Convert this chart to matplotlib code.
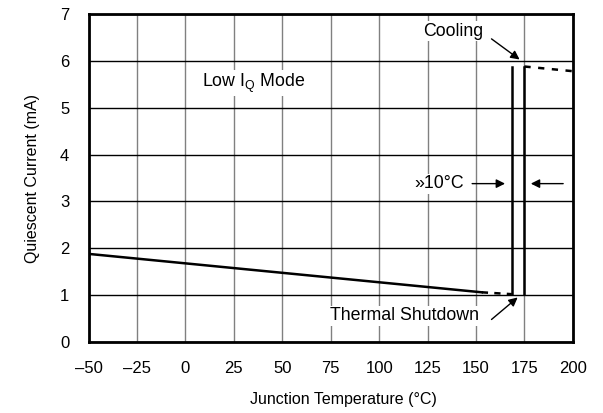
import numpy as np
import matplotlib
matplotlib.use("Agg")
from matplotlib import pyplot as plt

plt.rcParams['font.family'] = ['Liberation Sans', 'DejaVu Sans']

# Low IQ mode quiescent current vs junction temperature
heat_t = [-50, 153]
heat_i = [1.88, 1.06]
heat_dash_t = [153, 168.5]
heat_dash_i = [1.06, 1.02]
shut_t = [168.5, 168.5]
shut_i = [1.02, 5.88]
cool_t = [175, 175]
cool_i = [1.02, 5.88]
cool_dash_t = [175, 200]
cool_dash_i = [5.88, 5.78]

xticks = [-50, -25, 0, 25, 50, 75, 100, 125, 150, 175, 200]
yticks = [0, 1, 2, 3, 4, 5, 6, 7]

fs = 11.5   # axis labels
tfs = 12    # tick labels
afs = 12.8  # annotations

fig = plt.figure(figsize=(6.03, 4.13), dpi=100)
ax = fig.add_axes([0.147, 0.172, 0.803, 0.794])

for x in xticks:
    ax.axvline(x, color='#808080', lw=1.0, zorder=1)
for y in yticks:
    ax.axhline(y, color='black', lw=1.0, zorder=1)

ax.plot(heat_t, heat_i, color='black', lw=1.8, zorder=3)
ax.plot(heat_dash_t, heat_dash_i, color='black', lw=1.8, ls=(0, (2.5, 2.5)), zorder=3)
ax.plot(shut_t, shut_i, color='black', lw=1.8, zorder=3)
ax.plot(cool_t, cool_i, color='black', lw=1.8, zorder=3)
ax.plot(cool_dash_t, cool_dash_i, color='black', lw=1.8, ls=(0, (2.5, 3)), zorder=3)

box = dict(facecolor='white', edgecolor='none', pad=1)
arrow = dict(arrowstyle='-|>', color='black', lw=1, mutation_scale=13)

ax.text(35, 5.52, r'Low I$_\mathregular{Q}$ Mode', fontsize=afs, ha='center', va='center', bbox=box, zorder=4)
ax.text(138, 6.63, 'Cooling', fontsize=afs, ha='center', va='center', bbox=box, zorder=4)
ax.annotate('', xy=(172.5, 6.03), xytext=(158, 6.47), arrowprops=dict(arrow, shrinkA=0, shrinkB=0), zorder=4)
ax.text(113, 0.56, 'Thermal Shutdown', fontsize=afs, ha='center', va='center', bbox=box, zorder=4)
ax.annotate('', xy=(171.5, 0.95), xytext=(158, 0.48), arrowprops=dict(arrow, shrinkA=0, shrinkB=0), zorder=4)
ax.text(131, 3.38, '»10°C', fontsize=afs, ha='center', va='center', bbox=box, zorder=4)
ax.annotate('', xy=(165, 3.38), xytext=(148, 3.38), arrowprops=dict(arrow, shrinkA=0, shrinkB=0), zorder=4)
ax.annotate('', xy=(178.3, 3.38), xytext=(195, 3.38), arrowprops=dict(arrow, shrinkA=0, shrinkB=0), zorder=4)

ax.set_xlim(-50, 200)
ax.set_ylim(0, 7)
ax.set_xticks(xticks)
ax.set_xticklabels([str(v).replace('-', '–') for v in xticks], fontsize=tfs)
ax.set_yticks(yticks)
ax.set_yticklabels([str(v) for v in yticks], fontsize=tfs)
ax.tick_params(axis='x', length=0, pad=14)
ax.tick_params(axis='y', length=0, pad=14)
for s in ax.spines.values():
    s.set_linewidth(2)
    s.set_zorder(5)

ax.set_xlabel('Junction Temperature (°C)', fontsize=fs, labelpad=11, x=0.526)
ax.set_ylabel('Quiescent Current (mA)', fontsize=fs, labelpad=14)

fig.savefig('out.png', dpi=100)
